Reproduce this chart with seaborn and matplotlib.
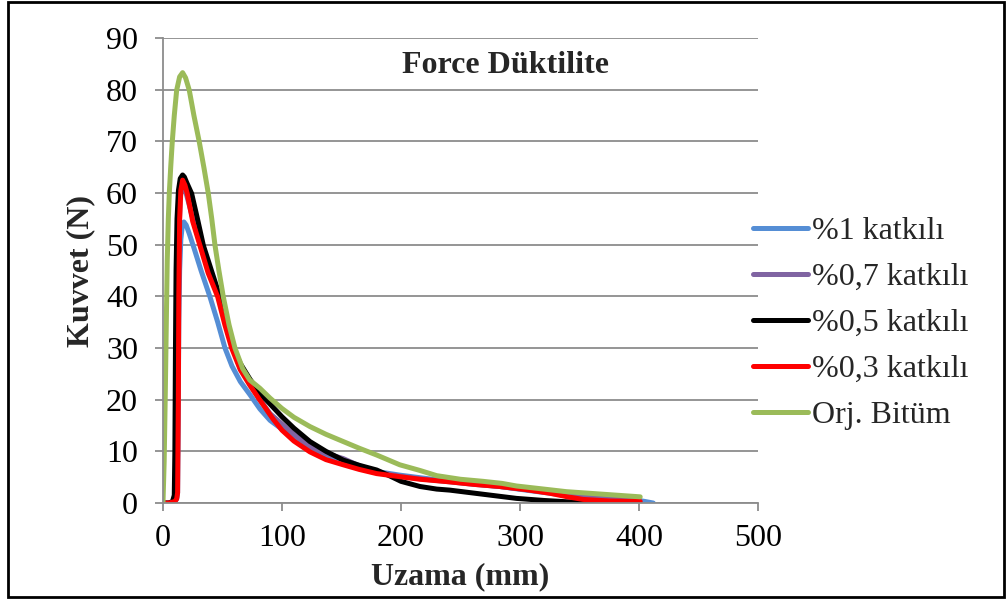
import numpy as np
import pandas as pd
import seaborn as sns
import matplotlib.pyplot as plt
from matplotlib.patches import Rectangle

# ---- data ----
labels = ["%1 katkılı", "%0,7 katkılı", "%0,5 katkılı", "%0,3 katkılı", "Orj. Bitüm"]
colors = ["#558ED5", "#8064A2", "#000000", "#FF0000", "#9BBB59"]

x_k1 = [0, 5, 10, 11.5, 12.3, 12.9, 13.3, 14, 15, 16.3, 17.6, 19.5, 22, 26, 32, 39.5, 46, 52.1, 58, 65, 73, 81.5,
        90, 100, 110, 123.5, 137, 151.5, 165, 179.5, 199, 216, 241, 262, 283, 305, 325, 345, 365, 385, 400, 405, 412]
y_k1 = [0, 0, 0.3, 0.8, 2, 20, 35, 45, 51, 53.8, 54.4, 53.8, 52.2, 49.4, 45, 39.9, 35, 30, 26.5, 23.5, 21, 18.2,
        16, 14.3, 12.3, 10.2, 8.8, 7.7, 6.8, 6.1, 5.4, 4.9, 4.2, 3.7, 3.2, 2.5, 1.9, 1.3, 0.9, 0.6, 0.5, 0.3, 0]

x_k07 = [0, 5, 10, 11.5, 12.3, 12.9, 13.5, 14.5, 16, 17.5, 20, 24, 31.5, 38, 47, 53, 58.5, 65, 73, 81.5, 90,
         100, 110, 123.5, 137, 151.5, 165, 179.5, 199, 216, 241, 262, 283, 305, 325, 345, 370, 400]
y_k07 = [0, 0, 0.3, 1, 10, 35, 52, 59, 61.8, 61.5, 59.5, 56, 49.9, 45, 39.9, 34.5, 30, 26, 23, 20, 17.3,
         15.3, 13.3, 10.9, 9.6, 8.6, 7.2, 6.0, 5.2, 4.7, 4.1, 3.6, 3.2, 2.6, 2.0, 1.5, 1.2, 0.8]

x_k05 = [0, 5, 8, 9.5, 10, 10.5, 11, 11.8, 13, 14.5, 16.5, 18, 20, 24.1, 29, 33.9, 41, 47.9, 53, 59.1, 65, 73, 81.5,
         87, 100, 110, 123.5, 137, 151.5, 165, 179.5, 191, 200, 216, 230, 241, 255, 269, 283, 297, 320, 339, 370, 400]
y_k05 = [0, 0, 0.3, 1.5, 10, 30, 45, 55, 60.5, 62.8, 63.5, 63.1, 62, 59.9, 55, 49.9, 44.8, 39.9, 35, 30, 27, 24, 21.2,
         19.9, 16.7, 14.5, 11.9, 10, 8.3, 7.3, 6.4, 5.2, 4.2, 3.2, 2.7, 2.5, 2.1, 1.7, 1.3, 0.9, 0.5, 0.25, 0.05, 0]

x_k03 = [0, 5, 10, 11.5, 12.3, 12.9, 13.3, 14, 15, 16.5, 18.5, 20.4, 25, 31, 38, 46, 52, 57.7, 65, 73, 81.5, 92.7,
         100, 110, 123.5, 137, 151.5, 165, 179.5, 199, 216, 241, 262, 283, 305, 325, 340, 353, 375, 401]
y_k03 = [0, 0, 0.3, 0.8, 2, 20, 40, 55, 60.5, 62.5, 61.5, 59.9, 54.5, 49.9, 44.5, 39.9, 34.5, 30, 25.8, 22.8, 19.9, 16.2,
         14.1, 12, 9.9, 8.4, 7.4, 6.5, 5.7, 5.1, 4.6, 4.1, 3.6, 3.2, 2.6, 1.9, 1.2, 0.7, 0.4, 0.3]

x_orj = [0, 1, 2, 3, 3.6, 4.5, 5.3, 6.5, 7.8, 9.5, 11.5, 14, 16.5, 19, 22.1, 26, 30.5, 34.5, 38.1, 41, 43.7, 47, 50.7,
         55.5, 60.5, 67, 73, 81.5, 90, 100, 110, 123.5, 137, 151.5, 165, 179.5, 199, 216, 230, 250, 269, 285, 297, 320,
         339, 370, 401]
y_orj = [0, 8, 22, 38, 47, 55, 59.9, 65, 69.9, 75, 79.9, 82.5, 83.3, 82.3, 79.9, 75, 69.9, 64.8, 59.9, 55, 49.9, 45,
         39.9, 34.5, 30, 26, 23.8, 22.2, 20.3, 18.3, 16.6, 14.8, 13.3, 11.9, 10.6, 9.3, 7.4, 6.3, 5.3, 4.6, 4.2, 3.8, 3.3,
         2.7, 2.2, 1.7, 1.2]

xs = [x_k1, x_k07, x_k05, x_k03, x_orj]
ys = [y_k1, y_k07, y_k05, y_k03, y_orj]

frames = []
for lab, xv, yv in zip(labels, xs, ys):
    frames.append(pd.DataFrame({"x": xv, "y": yv, "seri": lab}))
df = pd.concat(frames, ignore_index=True)

sns.set_theme(style="white")
plt.rcParams["font.family"] = ["Liberation Serif", "DejaVu Serif"]

fig = plt.figure(figsize=(10.06, 6.01), dpi=100)
ax = fig.add_axes([0.162, 0.163, 0.5915, 0.7737])

sns.lineplot(data=df, x="x", y="y", hue="seri", hue_order=labels, palette=colors,
             sort=False, estimator=None, units="seri", linewidth=3.6, ax=ax, legend=True)
for ln in ax.get_lines():
    ln.set_solid_joinstyle("round")
    ln.set_solid_capstyle("round")

ax.set_xlim(0, 500)
ax.set_ylim(0, 90)
ax.set_xticks(range(0, 501, 100))
ax.set_yticks(range(0, 91, 10))
grid_c = "#8C8C8C"
ax.yaxis.grid(True, color=grid_c, linewidth=1.3)
ax.xaxis.grid(False)
ax.set_axisbelow(True)
for s in ["top", "right"]:
    ax.spines[s].set_visible(False)
for s in ["left", "bottom"]:
    ax.spines[s].set_color(grid_c)
    ax.spines[s].set_linewidth(1.3)
ax.tick_params(axis="both", direction="out", length=6, width=1.3, color=grid_c,
               labelsize=23, labelcolor="black")
ax.tick_params(axis="y", pad=12)
ax.tick_params(axis="x", pad=9)
ax.tick_params(left=True, bottom=True)

ax.set_xlabel("Uzama (mm)", fontsize=23, fontweight="bold", labelpad=7)
ax.set_ylabel("Kuvvet (N)", fontsize=23, fontweight="bold", labelpad=8)
ax.text(0.575, 0.942, "Force Düktilite", transform=ax.transAxes, ha="center", va="center",
        fontsize=23, fontweight="bold")

handles, labs = ax.get_legend_handles_labels()
for h in handles:
    h.set_linewidth(3.6)
leg = fig.legend(handles, labs, loc="center left", bbox_to_anchor=(0.749, 0.462), frameon=False,
                 fontsize=23, handlelength=1.7, handletextpad=0.12, labelspacing=0.52,
                 borderaxespad=0, borderpad=0)
ax.get_legend().remove()

fig.patches.append(Rectangle((0.008, 0.006), 0.99, 0.99, transform=fig.transFigure, fill=False,
                             edgecolor="black", linewidth=2))

fig.savefig("out.png", dpi=100)
